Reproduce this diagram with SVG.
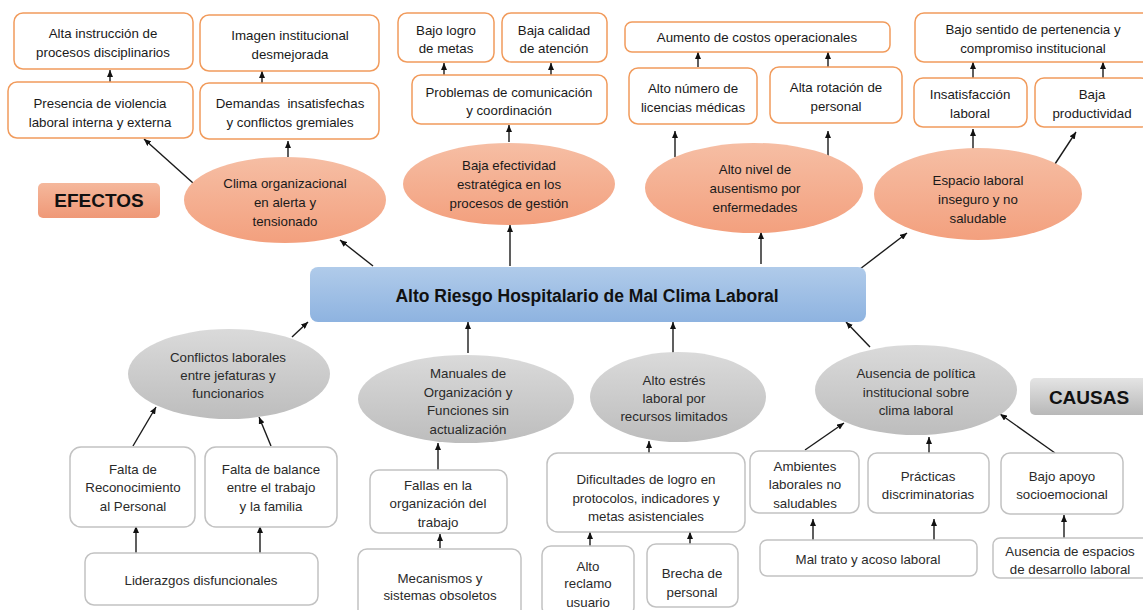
<svg xmlns="http://www.w3.org/2000/svg" width="1143" height="610" viewBox="0 0 1143 610">
  <style>
    .bg { fill: #ffffff; }
    .eff-box { fill: #ffffff; stroke: #f19b5c; stroke-width: 1.5; }
    .cau-box { fill: #ffffff; stroke: #c2c2c2; stroke-width: 1.5; }
    .eff-ell { fill: url(#salmon); }
    .cau-ell { fill: url(#grey); }
    .t { font-family: "Liberation Sans", Arial, sans-serif; font-size: 13.3px; fill: #1a1a1a; text-anchor: middle; }
    .tc { font-family: "Liberation Sans", Arial, sans-serif; font-size: 13.3px; fill: #2a2a2a; text-anchor: middle; }
    .title { font-family: "Liberation Sans", Arial, sans-serif; font-size: 17.5px; font-weight: bold; fill: #111111; text-anchor: middle; }
    .tag { font-family: "Liberation Sans", Arial, sans-serif; font-size: 19px; font-weight: bold; fill: #111111; text-anchor: middle; }
    .conn line { stroke: #1a1a1a; stroke-width: 1.4; marker-end: url(#arrow); }
  </style>
  <defs>
    <linearGradient id="salmon" x1="0" y1="0" x2="0" y2="1">
      <stop offset="0" stop-color="#f6bea4"/>
      <stop offset="1" stop-color="#f3a07e"/>
    </linearGradient>
    <linearGradient id="grey" x1="0" y1="0" x2="0" y2="1">
      <stop offset="0" stop-color="#dadada"/>
      <stop offset="1" stop-color="#bdbdbd"/>
    </linearGradient>
    <linearGradient id="blue" x1="0" y1="0" x2="0" y2="1">
      <stop offset="0" stop-color="#b0cbea"/>
      <stop offset="1" stop-color="#8eb3e0"/>
    </linearGradient>
    <linearGradient id="tagSalmon" x1="0" y1="0" x2="0" y2="1">
      <stop offset="0" stop-color="#f5b89c"/>
      <stop offset="1" stop-color="#ef9877"/>
    </linearGradient>
    <linearGradient id="tagGrey" x1="0" y1="0" x2="0" y2="1">
      <stop offset="0" stop-color="#e4e4e4"/>
      <stop offset="1" stop-color="#b8b8b8"/>
    </linearGradient>
    <marker id="arrow" viewBox="0 0 7 6" refX="7" refY="3" markerWidth="7" markerHeight="6" markerUnits="userSpaceOnUse" orient="auto">
      <path d="M0,0 L7,3 L0,6 z" fill="#111111"/>
    </marker>
  </defs>

  <rect class="bg" x="0" y="0" width="1143" height="610"/>

  <!-- connectors -->
  <g id="connectors" class="conn">
    <line x1="110" y1="82" x2="110" y2="70"/>
    <line x1="262" y1="83" x2="262" y2="71"/>
    <line x1="193" y1="183" x2="144" y2="139"/>
    <line x1="288" y1="157" x2="288" y2="141"/>
    <line x1="373" y1="266" x2="340" y2="240"/>
    <line x1="444" y1="75" x2="444" y2="63"/>
    <line x1="551" y1="75" x2="551" y2="63"/>
    <line x1="509" y1="142" x2="509" y2="125"/>
    <line x1="510" y1="266" x2="510" y2="225"/>
    <line x1="698" y1="67" x2="698" y2="52"/>
    <line x1="828" y1="67" x2="828" y2="52"/>
    <line x1="675" y1="157" x2="675" y2="131"/>
    <line x1="828" y1="157" x2="828" y2="131"/>
    <line x1="761" y1="264" x2="761" y2="232"/>
    <line x1="973" y1="78" x2="973" y2="62"/>
    <line x1="1103" y1="78" x2="1103" y2="62"/>
    <line x1="973" y1="155" x2="973" y2="129"/>
    <line x1="1053" y1="167" x2="1076" y2="132"/>
    <line x1="860" y1="269" x2="907" y2="233"/>

    <line x1="292" y1="337" x2="308" y2="322"/>
    <line x1="133" y1="446" x2="156" y2="407"/>
    <line x1="271" y1="446" x2="259" y2="417"/>
    <line x1="136" y1="553" x2="136" y2="526"/>
    <line x1="260" y1="553" x2="260" y2="526"/>
    <line x1="468" y1="353" x2="468" y2="322"/>
    <line x1="438" y1="470" x2="438" y2="443"/>
    <line x1="440" y1="548" x2="440" y2="534"/>
    <line x1="673" y1="353" x2="673" y2="322"/>
    <line x1="649" y1="453" x2="649" y2="441"/>
    <line x1="590" y1="546" x2="590" y2="532"/>
    <line x1="690" y1="544" x2="690" y2="532"/>
    <line x1="870" y1="347" x2="846" y2="322"/>
    <line x1="805" y1="450" x2="844" y2="423"/>
    <line x1="929" y1="453" x2="929" y2="437"/>
    <line x1="1055" y1="453" x2="1000" y2="414"/>
    <line x1="813" y1="540" x2="813" y2="519"/>
    <line x1="934" y1="540" x2="934" y2="519"/>
    <line x1="1064" y1="538" x2="1064" y2="515"/>
  </g>

  <!-- central problem -->
  <g id="problema-central">
    <rect x="310" y="267" width="556" height="55" rx="8" fill="url(#blue)"/>
    <text class="title" x="587" y="302">Alto Riesgo Hospitalario de Mal Clima Laboral</text>
  </g>

  <!-- section tags -->
  <g id="tag-efectos">
    <rect x="38" y="183" width="122" height="35" rx="5" fill="url(#tagSalmon)"/>
    <text class="tag" x="99" y="207">EFECTOS</text>
  </g>
  <g id="tag-causas">
    <rect x="1030" y="378" width="124" height="37" rx="5" fill="url(#tagGrey)"/>
    <text class="tag" x="1089" y="404">CAUSAS</text>
  </g>

  <!-- effects: ellipses -->
  <g id="clima-organizacional">
    <ellipse class="eff-ell" cx="285" cy="200" rx="101" ry="43"/>
    <text class="t" x="285" y="188">Clima organizacional</text>
    <text class="t" x="285" y="207">en alerta y</text>
    <text class="t" x="285" y="226">tensionado</text>
  </g>
  <g id="baja-efectividad">
    <ellipse class="eff-ell" cx="509" cy="184" rx="106" ry="41"/>
    <text class="t" x="509" y="170">Baja efectividad</text>
    <text class="t" x="509" y="189">estratégica en los</text>
    <text class="t" x="509" y="208">procesos de gestión</text>
  </g>
  <g id="alto-ausentismo">
    <ellipse class="eff-ell" cx="754" cy="188" rx="109" ry="45"/>
    <text class="t" x="755" y="174">Alto nivel de</text>
    <text class="t" x="755" y="193">ausentismo por</text>
    <text class="t" x="755" y="212">enfermedades</text>
  </g>
  <g id="espacio-laboral">
    <ellipse class="eff-ell" cx="978" cy="194" rx="104" ry="46"/>
    <text class="t" x="978" y="185">Espacio laboral</text>
    <text class="t" x="978" y="204">inseguro y no</text>
    <text class="t" x="978" y="223">saludable</text>
  </g>

  <!-- effects: boxes -->
  <g id="alta-instruccion">
    <rect class="eff-box" x="14" y="13" width="179" height="56" rx="9"/>
    <text class="t" x="103" y="38">Alta instrucción de</text>
    <text class="t" x="103" y="57">procesos disciplinarios</text>
  </g>
  <g id="imagen-institucional">
    <rect class="eff-box" x="200" y="15" width="179" height="56" rx="9"/>
    <text class="t" x="290" y="40">Imagen institucional</text>
    <text class="t" x="290" y="59">desmejorada</text>
  </g>
  <g id="presencia-violencia">
    <rect class="eff-box" x="8" y="82" width="185" height="56" rx="9"/>
    <text class="t" x="100" y="108">Presencia de violencia</text>
    <text class="t" x="100" y="127">laboral interna y externa</text>
  </g>
  <g id="demandas-insatisfechas">
    <rect class="eff-box" x="200" y="83" width="179" height="56" rx="9"/>
    <text class="t" x="290" y="108" xml:space="preserve">Demandas  insatisfechas</text>
    <text class="t" x="290" y="127">y conflictos gremiales</text>
  </g>
  <g id="bajo-logro">
    <rect class="eff-box" x="398" y="13" width="96" height="49" rx="9"/>
    <text class="t" x="446" y="35">Bajo logro</text>
    <text class="t" x="446" y="53">de metas</text>
  </g>
  <g id="baja-calidad">
    <rect class="eff-box" x="502" y="13" width="105" height="49" rx="9"/>
    <text class="t" x="554" y="35">Baja calidad</text>
    <text class="t" x="554" y="53">de atención</text>
  </g>
  <g id="problemas-comunicacion">
    <rect class="eff-box" x="412" y="75" width="195" height="49" rx="9"/>
    <text class="t" x="509" y="97">Problemas de comunicación</text>
    <text class="t" x="509" y="115">y coordinación</text>
  </g>
  <g id="aumento-costos">
    <rect class="eff-box" x="625" y="22" width="265" height="30" rx="7"/>
    <text class="t" x="757" y="42">Aumento de costos operacionales</text>
  </g>
  <g id="licencias-medicas">
    <rect class="eff-box" x="629" y="68" width="128" height="56" rx="9"/>
    <text class="t" x="693" y="93">Alto número de</text>
    <text class="t" x="693" y="112">licencias médicas</text>
  </g>
  <g id="rotacion-personal">
    <rect class="eff-box" x="770" y="67" width="132" height="56" rx="9"/>
    <text class="t" x="836" y="92">Alta rotación de</text>
    <text class="t" x="836" y="111">personal</text>
  </g>
  <g id="bajo-sentido">
    <rect class="eff-box" x="915" y="13" width="236" height="49" rx="9"/>
    <text class="t" x="1033" y="34">Bajo sentido de pertenencia y</text>
    <text class="t" x="1033" y="53">compromiso institucional</text>
  </g>
  <g id="insatisfaccion-laboral">
    <rect class="eff-box" x="914" y="78" width="113" height="49" rx="9"/>
    <text class="t" x="970" y="99">Insatisfacción</text>
    <text class="t" x="970" y="118">laboral</text>
  </g>
  <g id="baja-productividad">
    <rect class="eff-box" x="1035" y="78" width="115" height="49" rx="9"/>
    <text class="t" x="1092" y="99">Baja</text>
    <text class="t" x="1092" y="118">productividad</text>
  </g>

  <!-- causes: ellipses -->
  <g id="conflictos-laborales">
    <ellipse class="cau-ell" cx="229" cy="374" rx="101" ry="45"/>
    <text class="tc" x="228" y="362">Conflictos laborales</text>
    <text class="tc" x="228" y="380">entre jefaturas y</text>
    <text class="tc" x="228" y="398">funcionarios</text>
  </g>
  <g id="manuales-organizacion">
    <ellipse class="cau-ell" cx="466" cy="399" rx="108" ry="44"/>
    <text class="tc" x="468" y="378">Manuales de</text>
    <text class="tc" x="468" y="397">Organización y</text>
    <text class="tc" x="468" y="415">Funciones sin</text>
    <text class="tc" x="468" y="434">actualización</text>
  </g>
  <g id="alto-estres">
    <ellipse class="cau-ell" cx="678" cy="397" rx="88" ry="45"/>
    <text class="tc" x="674" y="385">Alto estrés</text>
    <text class="tc" x="674" y="403">laboral por</text>
    <text class="tc" x="674" y="421">recursos limitados</text>
  </g>
  <g id="ausencia-politica">
    <ellipse class="cau-ell" cx="916" cy="390" rx="101" ry="45"/>
    <text class="tc" x="916" y="378">Ausencia de política</text>
    <text class="tc" x="916" y="397">institucional sobre</text>
    <text class="tc" x="916" y="415">clima laboral</text>
  </g>

  <!-- causes: boxes -->
  <g id="falta-reconocimiento">
    <rect class="cau-box" x="70" y="447" width="125" height="80" rx="11"/>
    <text class="tc" x="133" y="474">Falta de</text>
    <text class="tc" x="133" y="492">Reconocimiento</text>
    <text class="tc" x="133" y="511">al Personal</text>
  </g>
  <g id="falta-balance">
    <rect class="cau-box" x="205" y="447" width="132" height="80" rx="11"/>
    <text class="tc" x="271" y="474">Falta de balance</text>
    <text class="tc" x="271" y="492">entre el trabajo</text>
    <text class="tc" x="271" y="511">y la familia</text>
  </g>
  <g id="liderazgos">
    <rect class="cau-box" x="85" y="553" width="233" height="52" rx="9"/>
    <text class="tc" x="201" y="585">Liderazgos disfuncionales</text>
  </g>
  <g id="fallas-organizacion">
    <rect class="cau-box" x="370" y="470" width="137" height="63" rx="9"/>
    <text class="tc" x="438" y="490">Fallas en la</text>
    <text class="tc" x="438" y="508">organización del</text>
    <text class="tc" x="438" y="527">trabajo</text>
  </g>
  <g id="mecanismos-obsoletos">
    <rect class="cau-box" x="358" y="549" width="163" height="70" rx="9"/>
    <text class="tc" x="440" y="583">Mecanismos y</text>
    <text class="tc" x="440" y="600">sistemas obsoletos</text>
  </g>
  <g id="dificultades-logro">
    <rect class="cau-box" x="547" y="453" width="198" height="79" rx="11"/>
    <text class="tc" x="646" y="484">Dificultades de logro en</text>
    <text class="tc" x="646" y="503">protocolos, indicadores y</text>
    <text class="tc" x="646" y="521">metas asistenciales</text>
  </g>
  <g id="alto-reclamo">
    <rect class="cau-box" x="542" y="546" width="92" height="70" rx="9"/>
    <text class="tc" x="588" y="571">Alto</text>
    <text class="tc" x="588" y="588">reclamo</text>
    <text class="tc" x="588" y="607">usuario</text>
  </g>
  <g id="brecha-personal">
    <rect class="cau-box" x="647" y="544" width="91" height="63" rx="9"/>
    <text class="tc" x="692" y="578">Brecha de</text>
    <text class="tc" x="692" y="597">personal</text>
  </g>
  <g id="ambientes-laborales">
    <rect class="cau-box" x="750" y="451" width="109" height="62" rx="9"/>
    <text class="tc" x="805" y="471">Ambientes</text>
    <text class="tc" x="805" y="489">laborales no</text>
    <text class="tc" x="805" y="508">saludables</text>
  </g>
  <g id="practicas-discriminatorias">
    <rect class="cau-box" x="868" y="453" width="121" height="60" rx="9"/>
    <text class="tc" x="928" y="481">Prácticas</text>
    <text class="tc" x="928" y="499">discriminatorias</text>
  </g>
  <g id="bajo-apoyo">
    <rect class="cau-box" x="1001" y="453" width="122" height="61" rx="9"/>
    <text class="tc" x="1062" y="481">Bajo apoyo</text>
    <text class="tc" x="1062" y="499">socioemocional</text>
  </g>
  <g id="mal-trato">
    <rect class="cau-box" x="760" y="540" width="217" height="36" rx="7"/>
    <text class="tc" x="868" y="564">Mal trato y acoso laboral</text>
  </g>
  <g id="ausencia-espacios">
    <rect class="cau-box" x="993" y="538" width="160" height="40" rx="7"/>
    <text class="tc" x="1070" y="556">Ausencia de espacios</text>
    <text class="tc" x="1070" y="574">de desarrollo laboral</text>
  </g>
</svg>
